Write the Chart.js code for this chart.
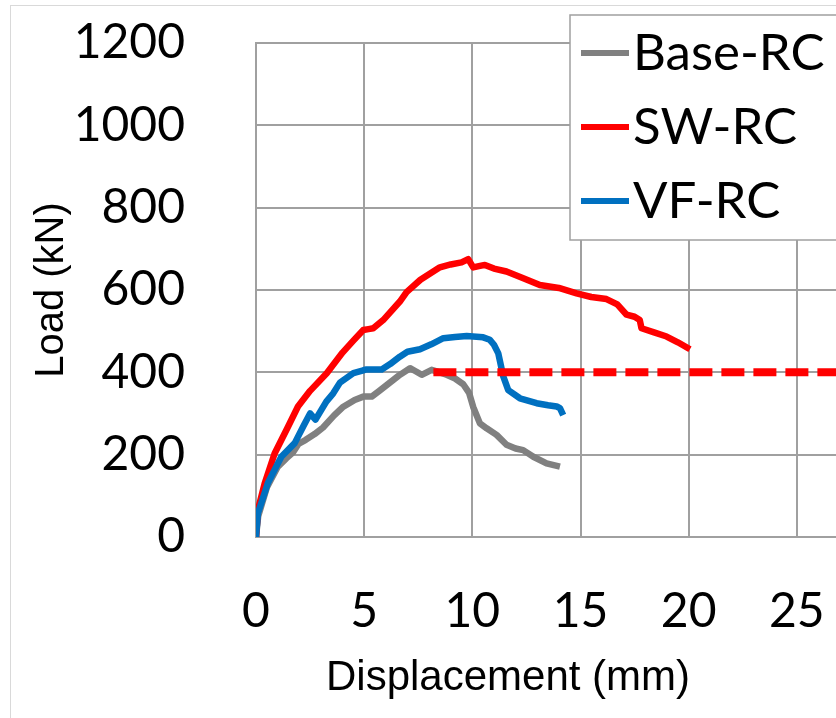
<!DOCTYPE html>
<html>
<head>
<meta charset="utf-8">
<script src="https://cdn.jsdelivr.net/npm/chart.js@4/dist/chart.umd.min.js"></script>
<style>
  html, body { margin: 0; padding: 0; background: #fff; overflow: hidden; }
  #wrap { width: 960px; height: 718px; }
</style>
</head>
<body>
<div id="wrap"><canvas id="mainChart" width="960" height="718"></canvas></div>
<script>
// data (displacement in mm, load in kN)
const baseX = [0, 0.1, 0.5, 1.0, 1.4, 1.7, 1.96, 2.3, 2.71, 3.1, 3.6, 4.0, 4.56, 4.96, 5.35, 5.7, 6.04, 6.6, 7.12, 7.4, 7.66, 8.12, 8.5, 8.81, 9.2, 9.58, 9.85, 10.04, 10.35, 10.66, 11.12, 11.58, 12.0, 12.35, 12.82, 13.43, 14.05];
const baseY = [0, 50, 120, 170, 191, 205, 226, 236, 250, 266, 295, 315, 333, 341, 341, 355, 369, 392, 410, 402, 394, 406, 400, 394, 385, 371, 350, 316, 276, 264, 248, 224, 215, 211, 195, 179, 171];

const swX = [0, 0.09, 0.4, 0.86, 1.48, 1.94, 2.5, 3.27, 4.0, 4.5, 4.96, 5.2, 5.42, 5.88, 6.65, 6.96, 7.6, 8.5, 9.0, 9.5, 9.81, 10.04, 10.3, 10.58, 11.0, 11.58, 12.3, 13.12, 14.0, 14.82, 15.5, 16.2, 16.7, 17.13, 17.5, 17.74, 17.82, 18.4, 18.98, 19.5, 20.06];
const swY = [0, 66, 130, 203, 268, 317, 355, 398, 448, 477, 503, 505, 507, 527, 572, 595, 625, 655, 662, 667, 675, 655, 658, 661, 652, 645, 630, 612, 605, 592, 583, 578, 565, 540, 535, 527, 507, 497, 487, 473, 456];

const vfX = [0, 0.09, 0.55, 1.17, 1.79, 2.2, 2.5, 2.75, 3.25, 3.57, 3.88, 4.5, 4.96, 5.11, 5.81, 6.2, 6.65, 7.0, 7.58, 8.1, 8.66, 9.2, 9.74, 10.04, 10.5, 10.81, 11.0, 11.2, 11.43, 11.66, 12.2, 12.97, 13.5, 13.9, 14.05, 14.2];
const vfY = [0, 58, 131, 195, 228, 270, 300, 285, 329, 349, 375, 398, 405, 407, 407, 420, 438, 450, 456, 468, 483, 486, 488, 487, 485, 479, 467, 446, 390, 357, 337, 325, 320, 317, 313, 296];

// dashed reference level
const refX = [8.2, 32];
const refY = [400, 400];

const seriesNames = ['Base-RC', 'SW-RC', 'VF-RC'];
const seriesColors = ['#808080', '#ff0000', '#0070c0'];

const xTicks = [0, 5, 10, 15, 20, 25, 30];
const yTicks = [0, 200, 400, 600, 800, 1000, 1200];

function toPoints(xs, ys) {
    return xs.map((x, i) => ({ x: x, y: ys[i] }));
}

const frameAndLegend = {
    id: 'frameAndLegend',
    beforeDraw(chart) {
        const ctx = chart.ctx;
        ctx.save();
        ctx.fillStyle = '#ffffff';
        ctx.fillRect(0, 0, chart.width, chart.height);
        ctx.strokeStyle = '#d9d9d9';
        ctx.lineWidth = 1;
        ctx.strokeRect(10.5, 5.5, 2000, 2000);
        ctx.restore();
    },
    afterDraw(chart) {
        const ctx = chart.ctx;
        ctx.save();
        // x axis title
        ctx.fillStyle = '#000';
        ctx.font = '42px "Liberation Sans"';
        ctx.textAlign = 'center';
        ctx.textBaseline = 'middle';
        ctx.fillText('Displacement (mm)', 508, 678);

        // legend box
        ctx.fillStyle = '#ffffff';
        ctx.fillRect(570, 15, 500, 225);
        ctx.strokeStyle = '#a0a0a0';
        ctx.lineWidth = 1.5;
        ctx.strokeRect(570, 15, 500, 225);
        ctx.font = '51px Lato';
        ctx.textAlign = 'left';
        ctx.textBaseline = 'alphabetic';
        seriesNames.forEach((name, i) => {
            const y = 53 + i * 74;
            ctx.strokeStyle = seriesColors[i];
            ctx.lineWidth = 6;
            ctx.beginPath();
            ctx.moveTo(581, y);
            ctx.lineTo(629, y);
            ctx.stroke();
            ctx.fillStyle = '#000';
            ctx.fillText(name, 633, y + 17);
        });
        ctx.restore();
    }
};

const ctx = document.getElementById('mainChart').getContext('2d');
new Chart(ctx, {
    type: 'line',
    data: {
        datasets: [
            { label: seriesNames[0], data: toPoints(baseX, baseY), borderColor: seriesColors[0], borderWidth: 6.5, order: 3 },
            { label: seriesNames[1], data: toPoints(swX, swY), borderColor: seriesColors[1], borderWidth: 6.5, order: 2 },
            { label: seriesNames[2], data: toPoints(vfX, vfY), borderColor: seriesColors[2], borderWidth: 6.5, order: 1 },
            { label: 'ref', data: toPoints(refX, refY), borderColor: '#ff0000', borderWidth: 8, borderDash: [23, 9], order: 0 }
        ]
    },
    options: {
        responsive: false,
        animation: false,
        events: [],
        elements: {
            point: { radius: 0 },
            line: { tension: 0, fill: false, borderCapStyle: 'butt', borderJoinStyle: 'round' }
        },
        layout: { padding: { top: 43, right: 55, left: 0, bottom: 0 } },
        plugins: {
            legend: { display: false },
            tooltip: { enabled: false }
        },
        scales: {
            x: {
                type: 'linear',
                min: 0,
                max: 30,
                afterBuildTicks: s => { s.ticks = xTicks.map(v => ({ value: v })); },
                afterFit: s => { s.height = 181; s.paddingLeft = 0; s.paddingRight = 0; },
                grid: { color: '#a0a0a0', lineWidth: 2, drawTicks: false },
                border: { color: '#a0a0a0', width: 2 },
                ticks: { color: '#000', font: { family: 'Lato', size: 48 }, padding: 46, maxRotation: 0, callback: v => String(v) }
            },
            y: {
                min: 0,
                max: 1200,
                afterBuildTicks: s => { s.ticks = yTicks.map(v => ({ value: v })); },
                afterFit: s => { s.width = 256; s.paddingTop = 0; s.paddingBottom = 0; },
                grid: { color: '#a0a0a0', lineWidth: 2, drawTicks: false },
                border: { color: '#a0a0a0', width: 2 },
                ticks: { color: '#000', font: { family: 'Lato', size: 48 }, padding: 71, callback: v => String(v) },
                title: {
                    display: true,
                    text: 'Load (kN)',
                    color: '#000',
                    font: { family: 'Liberation Sans', size: 40 },
                    padding: { top: 28, bottom: 0 }
                }
            }
        }
    },
    plugins: [frameAndLegend]
});
</script>
</body>
</html>
